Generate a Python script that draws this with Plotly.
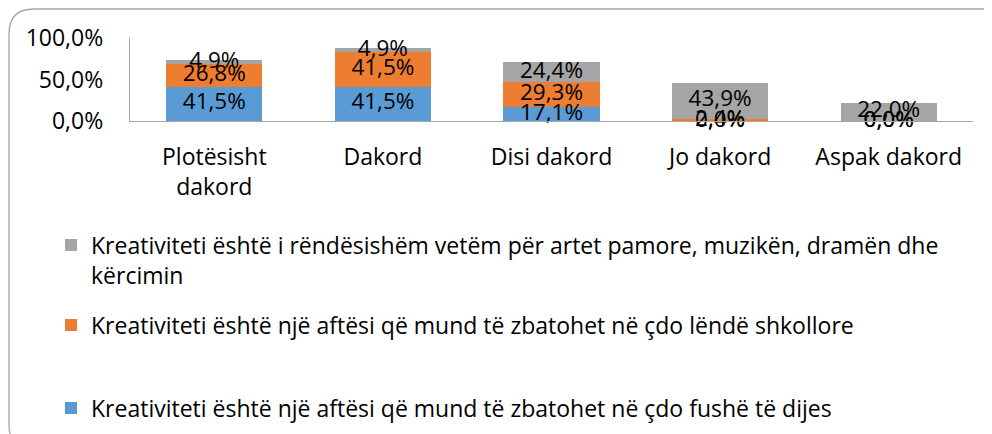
import plotly.graph_objects as go

categories = ["Plotësisht<br>dakord", "Dakord", "Disi dakord", "Jo dakord", "Aspak dakord"]
series_names = [
    "Kreativiteti është një aftësi që mund të zbatohet në çdo fushë të dijes",
    "Kreativiteti është një aftësi që mund të zbatohet në çdo lëndë shkollore",
    "Kreativiteti është i rëndësishëm vetëm për artet pamore, muzikën, dramën dhe<br>kërcimin",
]
blue_vals = [41.5, 41.5, 17.1, 0.0, 0.0]
orange_vals = [26.8, 41.5, 29.3, 2.4, 0.0]
gray_vals = [4.9, 4.9, 24.4, 43.9, 22.0]
colors = ["#5B9BD5", "#ED7D31", "#A5A5A5"]
y_ticks = [0, 50, 100]
y_ticktext = ["0,0%", "50,0%", "100,0%"]

W, H = 992, 434
OFF = 8  # page body margin
# target page pixels of the plot area: x 130..973, y 38..121
L, R, T = 130 - OFF, W - (973 - OFF), 38 - OFF
B = H - (121 - OFF)
FONT = "Open Sans"
FS = 23

fig = go.Figure()
all_vals = [blue_vals, orange_vals, gray_vals]
legend_ids = ["legend3", "legend2", "legend"]
for name, vals, col, lg in zip(series_names, all_vals, colors, legend_ids):
    fig.add_trace(go.Bar(x=categories, y=vals, name=name, marker_color=col,
                         marker_line_width=0, legend=lg))

# data labels centred in each segment
base = [0.0] * len(categories)
for vals in all_vals:
    mids = [b + v / 2 for b, v in zip(base, vals)]
    txt = [f"{v:.1f}".replace(".", ",") + "%" for v in vals]
    fig.add_trace(go.Scatter(x=categories, y=mids, mode="text", text=txt,
                             textfont=dict(family=FONT, size=22.5, color="#000000"),
                             showlegend=False, hoverinfo="skip", cliponaxis=False))
    base = [b + v for b, v in zip(base, vals)]

pw = W - L - R
ph = H - T - B
def px2x(px):
    return (px - OFF - L) / pw
def py2y(py):
    return (H - B - (py - OFF)) / ph

# rounded chart border
x0, x1 = px2x(9), px2x(1010)
y0, y1 = py2y(9), py2y(450)
rx, ry = 25 / pw, 25 / ph
path = (f"M {x0},{y0 - ry} Q {x0},{y0} {x0 + rx},{y0} L {x1 - rx},{y0} "
        f"Q {x1},{y0} {x1},{y0 - ry} L {x1},{y1 + ry} Q {x1},{y1} {x1 - rx},{y1} "
        f"L {x0 + rx},{y1} Q {x0},{y1} {x0},{y1 + ry} Z")
fig.add_shape(type="path", path=path, xref="paper", yref="paper",
              line=dict(color="#A6A6A6", width=1.3), fillcolor="rgba(0,0,0,0)", layer="below")

leg_common = dict(xref="container", yref="container", xanchor="left", yanchor="middle",
                  font=dict(family=FONT, size=FS, color="#000000"), bgcolor="rgba(0,0,0,0)",
                  valign="top", itemclick=False, itemdoubleclick=False)
legx = (93 - 2 - 40 - OFF) / W
def ly(py):
    return 1 - (py - OFF) / H
fig.update_layout(
    legend=dict(x=legx, y=ly(260), **leg_common),
    legend2=dict(x=legx, y=ly(325), **leg_common),
    legend3=dict(x=legx, y=ly(408), **leg_common),
)

fig.update_layout(
    width=W, height=H,
    margin=dict(l=L, r=R, t=T, b=B, autoexpand=False),
    barmode="stack", bargap=0.43,
    paper_bgcolor="white", plot_bgcolor="white",
    font=dict(family=FONT, size=FS, color="#000000"),
    xaxis=dict(showgrid=False, showline=True, linecolor="#A6A6A6", linewidth=1.3,
               ticks="", ticklabelstandoff=15, tickfont=dict(family=FONT, size=FS),
               fixedrange=True),
    yaxis=dict(range=[0, 100], tickvals=y_ticks, ticktext=y_ticktext,
               showgrid=False, showline=True, linecolor="#A6A6A6", linewidth=1.3,
               zeroline=False, ticks="", ticklabelstandoff=21,
               tickfont=dict(family=FONT, size=FS), fixedrange=True),
)

fig.write_html("out.html")
